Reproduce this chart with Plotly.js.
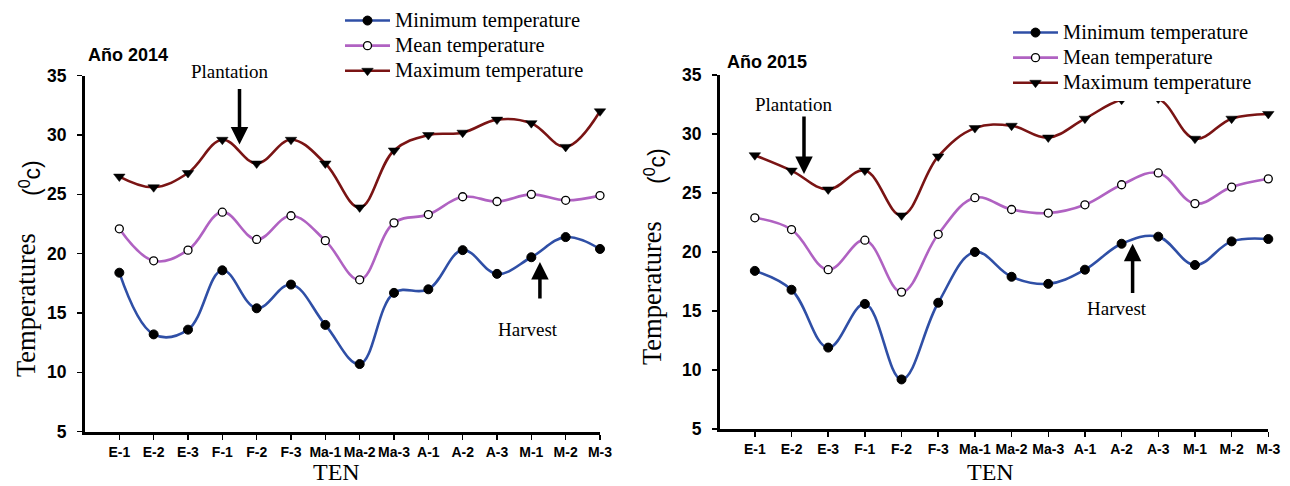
<!DOCTYPE html>
<html>
<head>
<meta charset="utf-8">
<script src="https://cdn.plot.ly/plotly-3.0.1.min.js"></script>
<style>html,body{margin:0;padding:0;background:#fff;}#chart{width:1290px;height:486px;}</style>
</head>
<body>
<div id="chart"></div>
<script>
const categories = ['E-1','E-2','E-3','F-1','F-2','F-3','Ma-1','Ma-2','Ma-3','A-1','A-2','A-3','M-1','M-2','M-3'];
const yTicks = [5, 10, 15, 20, 25, 30, 35];

const min2014  = [18.4,13.2,13.6,18.6,15.4,17.4,14.0,10.7,16.7,17.0,20.3,18.3,19.7,21.4,20.4];
const mean2014 = [22.1,19.4,20.3,23.5,21.2,23.2,21.1,17.8,22.6,23.3,24.8,24.4,25.0,24.5,24.9];
const max2014  = [26.5,25.6,26.8,29.6,27.6,29.6,27.6,23.9,28.7,30.0,30.2,31.3,31.0,29.0,32.0];

const min2015  = [18.4,16.8,11.9,15.6,9.2,15.7,20.0,17.9,17.3,18.5,20.7,21.3,18.9,20.9,21.1];
const mean2015 = [22.9,21.9,18.5,21.0,16.6,21.5,24.6,23.6,23.3,24.0,25.7,26.7,24.1,25.5,26.2];
const max2015  = [28.2,26.9,25.3,26.9,23.1,28.1,30.5,30.7,29.7,31.3,32.9,33.0,29.6,31.3,31.7];

const seriesNames = ['Minimum temperature','Mean temperature','Maximum temperature'];

const C_MIN = '#2f4fa6', C_MEAN = '#b062c2', C_MAX = '#7a1414';
const serif = 'Liberation Serif, Times New Roman, serif';
const sans = 'Liberation Sans, Arial, sans-serif';

function big(s) { return '<span style="font-size:20.5px">' + s + '</span>'; }

function mk(y, name, color, marker, xa, ya, leg) {
  return {
    x: categories, y: y, name: big(name), type: 'scatter', mode: 'lines+markers',
    xaxis: xa, yaxis: ya, legend: leg, cliponaxis: false,
    line: {color: color, width: 2.6, shape: 'spline', smoothing: 1.1},
    marker: marker
  };
}
const mMin = {symbol: 'circle', size: 9, color: '#000', line: {color: '#000', width: 1}};
const mMean = {symbol: 'circle', size: 8, color: '#fff', line: {color: '#000', width: 1.3}};
const mMax = {symbol: 'triangle-down', size: 10, color: '#000', line: {color: '#000', width: 0.5}};

const data = [
  mk(min2014, seriesNames[0], C_MIN, mMin, 'x', 'y', 'legend'),
  mk(mean2014, seriesNames[1], C_MEAN, mMean, 'x', 'y', 'legend'),
  mk(max2014, seriesNames[2], C_MAX, mMax, 'x', 'y', 'legend'),
  mk(min2015, seriesNames[0], C_MIN, mMin, 'x2', 'y2', 'legend2'),
  mk(mean2015, seriesNames[1], C_MEAN, mMean, 'x2', 'y2', 'legend2'),
  mk(max2015, seriesNames[2], C_MAX, mMax, 'x2', 'y2', 'legend2')
];

function xax(domain, anchor, r0) {
  return {
    domain: domain, anchor: anchor, type: 'category', range: [r0, 14],
    showline: true, linecolor: '#000', linewidth: 3, showgrid: false, zeroline: false,
    ticks: 'outside', ticklen: 5, tickwidth: 1.5, tickcolor: '#000', tickangle: 0,
    tickfont: {family: sans, size: 14, color: '#000', weight: 700},
    ticklabelstandoff: 0, fixedrange: true
  };
}
function yax(domain, anchor) {
  return {
    domain: domain, anchor: anchor, range: [5, 35], tickvals: yTicks,
    showline: true, linecolor: '#000', linewidth: 3, showgrid: false, zeroline: false,
    ticks: 'outside', ticklen: 5, tickwidth: 1.5, tickcolor: '#000',
    tickfont: {family: sans, size: 17.5, color: '#000', weight: 700},
    ticklabelstandoff: 7, fixedrange: true
  };
}

function arrow(xref, yref, x, y, ax, ay) {
  return {xref: xref, yref: yref, x: x, y: y, axref: xref, ayref: yref, ax: ax, ay: ay,
    text: '', showarrow: true, arrowhead: 2, arrowsize: 1, arrowwidth: 3.5, arrowcolor: '#000'};
}
function txt(x, y, text, font, extra) {
  return Object.assign({xref: 'paper', yref: 'paper', x: x / 1290, y: 1 - y / 486, text: text,
    showarrow: false, font: font, xanchor: 'center', yanchor: 'middle'}, extra || {});
}

const labelFont = {family: serif, size: 19, color: '#000'};
const titleFont = {family: serif, size: 26.5, color: '#000'};
const tenFont = {family: serif, size: 24, color: '#000'};
const unitFont = {family: sans, size: 23, color: '#000'};
const yearFont = {family: sans, size: 18, color: '#000', weight: 700};

const annotations = [
  txt(128, 55, 'Año 2014', yearFont),
  txt(767, 62, 'Año 2015', yearFont),
  txt(230, 71, 'Plantation', labelFont),
  txt(794, 104, 'Plantation', labelFont),
  txt(528, 329, 'Harvest', labelFont),
  txt(1117, 308, 'Harvest', labelFont),
  txt(336, 472, 'TEN', tenFont),
  txt(990, 472, 'TEN', tenFont),
  txt(26, 305, 'Temperatures', titleFont, {textangle: -90}),
  txt(30, 178, '(<sup>0</sup>c)', unitFont, {textangle: -90}),
  txt(652, 293, 'Temperatures', titleFont, {textangle: -90}),
  txt(655, 166, '(<sup>0</sup>c)', unitFont, {textangle: -90}),
  arrow('x', 'y', 3.5, 29.2, 3.5, 34.0),
  arrow('x', 'y', 12.25, 19.3, 12.25, 16.1),
  arrow('x2', 'y2', 1.34, 26.6, 1.34, 31.6),
  arrow('x2', 'y2', 10.3, 20.7, 10.3, 16.4)
];

const legendBase = {
  font: {family: serif, size: 17, color: '#000'}, bgcolor: 'rgba(255,255,255,1)',
  borderwidth: 0, tracegroupgap: 0, itemwidth: 45, xanchor: 'left', yanchor: 'top'
};

const layout = {
  width: 1290, height: 486, margin: {l: 0, r: 0, t: 0, b: 0},
  paper_bgcolor: '#fff', plot_bgcolor: 'rgba(0,0,0,0)',
  showlegend: true,
  xaxis: xax([85/1290, 600/1290], 'y', -1),
  yaxis: yax([(486-431.7)/486, (486-75.7)/486], 'x'),
  xaxis2: xax([720/1290, 1268.3/1290], 'y2', -0.95),
  yaxis2: yax([(486-429)/486, (486-75)/486], 'x2'),
  legend: Object.assign({}, legendBase, {x: 340/1290, y: 1 - 3/486}),
  legend2: Object.assign({}, legendBase, {x: 1008/1290, y: 1 - 15/486}),
  annotations: annotations
};

Plotly.newPlot('chart', data, layout, {staticPlot: true, displayModeBar: false});
</script>
</body>
</html>
